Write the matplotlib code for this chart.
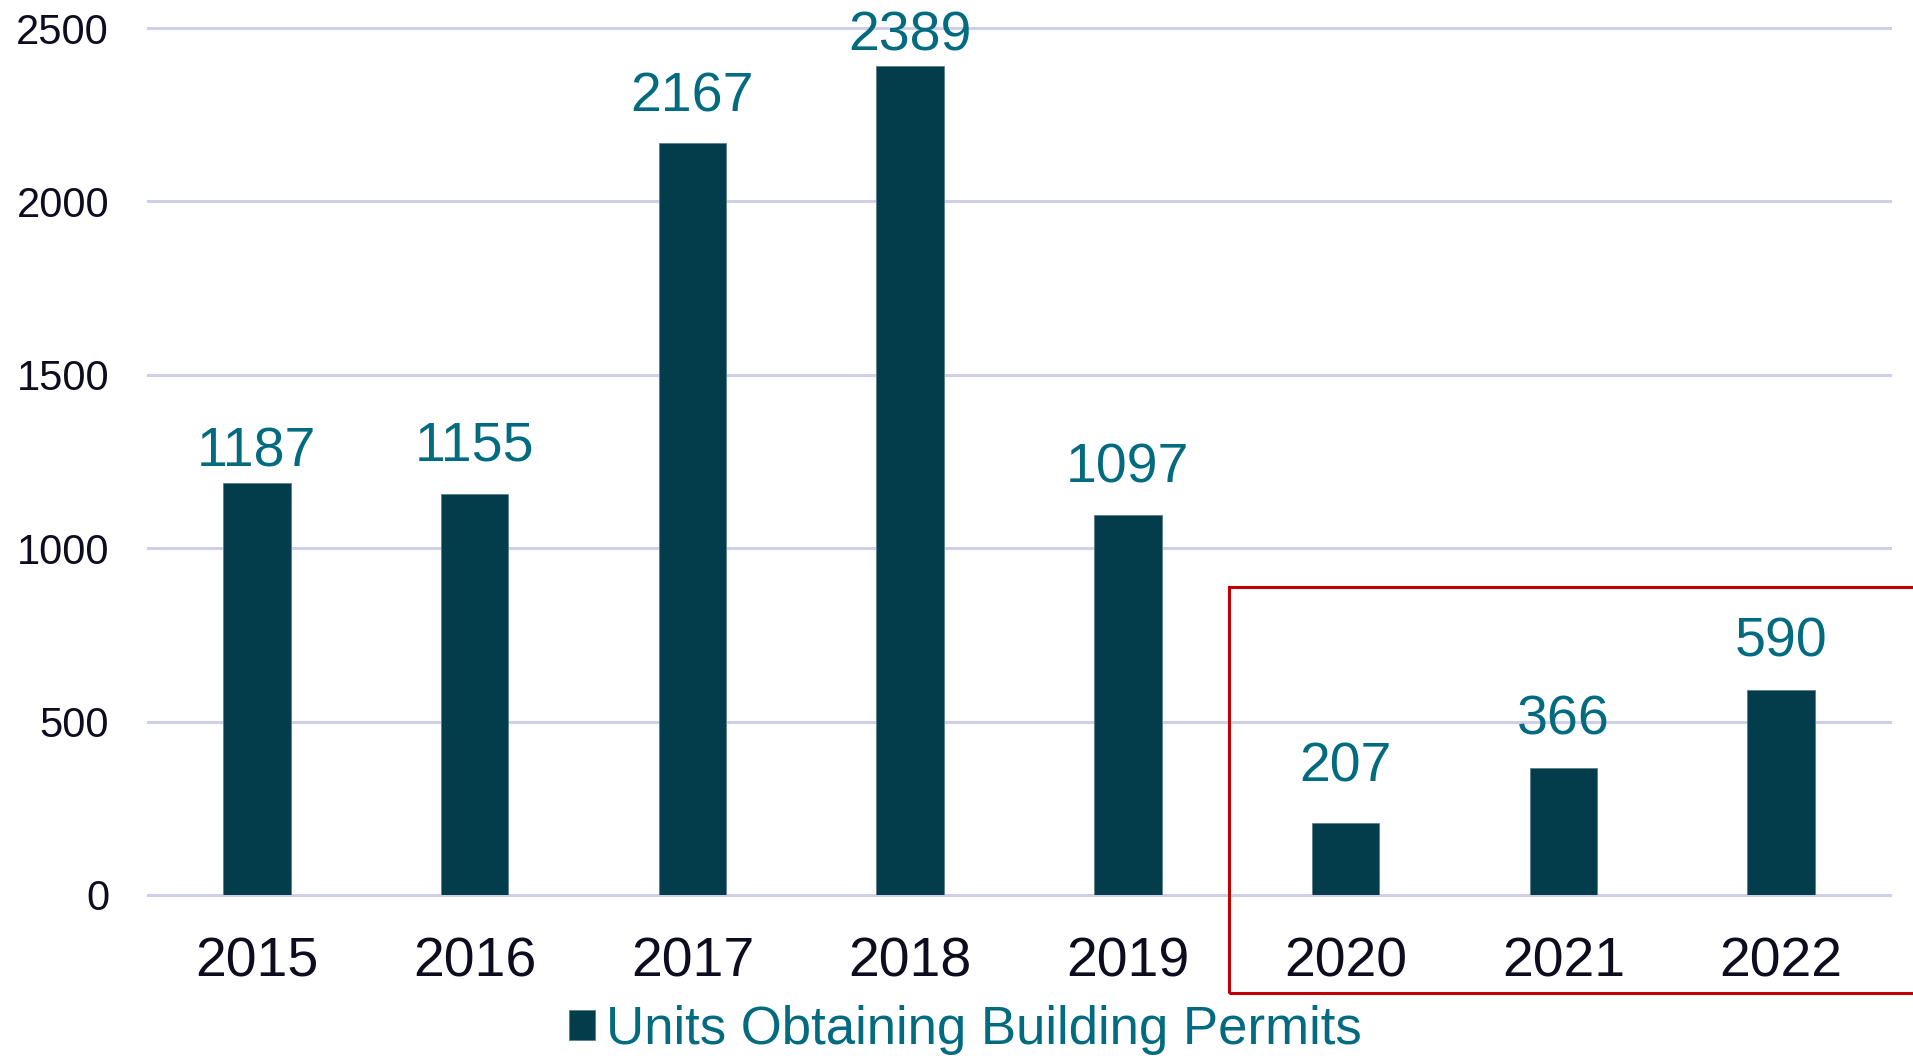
import matplotlib
matplotlib.use("Agg")
import matplotlib.pyplot as plt
from matplotlib.patches import Rectangle

years = ["2015", "2016", "2017", "2018", "2019", "2020", "2021", "2022"]
units = [1187, 1155, 2167, 2389, 1097, 207, 366, 590]
yticks = [0, 500, 1000, 1500, 2000, 2500]
series_name = "Units Obtaining Building Permits"

# label baseline offsets above bars (points)
label_offsets = [12, 24.5, 23, 11.5, 23, 30, 24, 24.5]

BAR = "#033D4B"
LABEL = "#036B80"
TICK = "#0D0D1F"
GRID = "#CFCFEA"
RED = "#C00000"

plt.rcParams["font.family"] = ["Liberation Sans", "DejaVu Sans"]

fig = plt.figure(figsize=(19.13, 10.58), dpi=100)
W, H = 1913, 1058
ax = fig.add_axes([148 / W, 1 - 895 / H, (1890 - 148) / W, (895 - 28) / H])

x = list(range(len(years)))
bars = ax.bar(x, units, width=0.31, color=BAR, edgecolor="#5E7F88", linewidth=0.6,
              zorder=3, label=series_name)

for xi, v, off in zip(x, units, label_offsets):
    ax.annotate(str(v), (xi, v), xytext=(0, off), textcoords="offset points",
                ha="center", va="baseline", fontsize=40, color=LABEL, zorder=4,
                annotation_clip=False)

ax.set_xlim(-0.5, len(years) - 0.5)
ax.set_ylim(0, 2500)
ax.set_yticks(yticks)
ax.set_yticklabels([str(t) for t in yticks], fontsize=30, color=TICK)
ax.set_xticks(x)
ax.set_xticklabels(years, fontsize=40, color=TICK)
ax.tick_params(axis="y", length=0, pad=28)
ax.tick_params(axis="x", length=0, pad=30)
for s in ax.spines.values():
    s.set_visible(False)
ax.grid(axis="y", color=GRID, linewidth=2.2, zorder=0)
ax.set_axisbelow(True)
for gl in ax.get_ygridlines():
    gl.set_clip_on(False)

# legend
leg = fig.legend(handles=[bars], labels=[series_name], loc="center",
                 bbox_to_anchor=(965 / W, 1 - 1030 / H), frameon=False,
                 fontsize=38, handlelength=0.5, handleheight=0.5,
                 handletextpad=0.2, borderpad=0, borderaxespad=0)
for t in leg.get_texts():
    t.set_color(LABEL)

# red highlight rectangle (figure pixel coords), runs off the right edge
rect = Rectangle((1229 / W, 1 - 993 / H), (1930 - 1229) / W, (993 - 587) / H,
                 transform=fig.transFigure, fill=False, edgecolor=RED, linewidth=2.2,
                 clip_on=False)
fig.add_artist(rect)

fig.savefig("out.png", dpi=100, facecolor="white")
